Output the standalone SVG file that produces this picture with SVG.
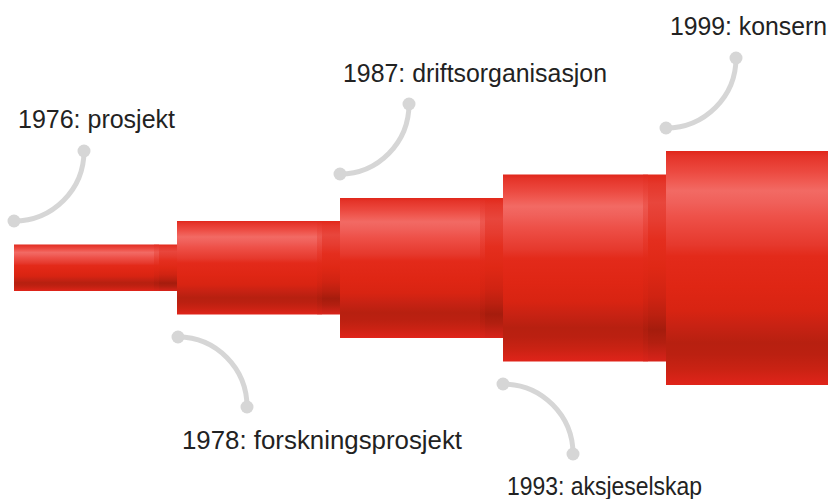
<svg xmlns="http://www.w3.org/2000/svg" width="828" height="499" viewBox="0 0 828 499">
  <style>
    .lbl { font-family: "Liberation Sans", Arial, sans-serif; font-size: 25px; fill: #222222; }
    .con { fill: none; stroke: #d6d6d6; stroke-width: 5; stroke-linecap: round; }
    .dot { fill: #d6d6d6; }
    .body { fill: url(#gBody); }
    .end { fill: url(#gEnd); }
    .trans { fill: url(#gBody); opacity: 0.5; }
  </style>
  <defs>
    <linearGradient id="gBody" x1="0" y1="0" x2="0" y2="1">
      <stop offset="0" stop-color="#e0261a"/>
      <stop offset="0.02" stop-color="#e43328"/>
      <stop offset="0.05" stop-color="#e83d33"/>
      <stop offset="0.09" stop-color="#ec4a41"/>
      <stop offset="0.13" stop-color="#f05a52"/>
      <stop offset="0.17" stop-color="#f26a64"/>
      <stop offset="0.22" stop-color="#f0605a"/>
      <stop offset="0.28" stop-color="#ee5149"/>
      <stop offset="0.34" stop-color="#ea453b"/>
      <stop offset="0.40" stop-color="#e6392d"/>
      <stop offset="0.45" stop-color="#e32a1a"/>
      <stop offset="0.58" stop-color="#df2614"/>
      <stop offset="0.68" stop-color="#d82412"/>
      <stop offset="0.75" stop-color="#c72213"/>
      <stop offset="0.82" stop-color="#b72010"/>
      <stop offset="0.87" stop-color="#bb2011"/>
      <stop offset="0.93" stop-color="#c92213"/>
      <stop offset="1" stop-color="#e0241a"/>
    </linearGradient>
    <linearGradient id="gEnd" x1="0" y1="0" x2="0" y2="1">
      <stop offset="0" stop-color="#e2281a"/>
      <stop offset="0.05" stop-color="#e5372b"/>
      <stop offset="0.15" stop-color="#e8463c"/>
      <stop offset="0.25" stop-color="#e63c30"/>
      <stop offset="0.35" stop-color="#e42e1e"/>
      <stop offset="0.5" stop-color="#df2815"/>
      <stop offset="0.65" stop-color="#d02312"/>
      <stop offset="0.75" stop-color="#bb2010"/>
      <stop offset="0.83" stop-color="#a51c0d"/>
      <stop offset="0.9" stop-color="#b31f10"/>
      <stop offset="1" stop-color="#d8231a"/>
    </linearGradient>
  </defs>

  <g id="stage-1976">
    <rect class="body" x="14" y="244.5" width="140" height="46.5"/>
    <rect class="end" x="154" y="244.5" width="23" height="46.5"/>
    <rect class="trans" x="154" y="244.5" width="5" height="46.5"/>
    <text class="lbl" x="18" y="128" textLength="157" lengthAdjust="spacingAndGlyphs">1976: prosjekt</text>
  </g>
  <g id="stage-1978">
    <rect class="body" x="177" y="221" width="140" height="93.5"/>
    <rect class="end" x="317" y="221" width="23" height="93.5"/>
    <rect class="trans" x="317" y="221" width="5" height="93.5"/>
    <text class="lbl" x="182" y="449" textLength="280" lengthAdjust="spacingAndGlyphs">1978: forskningsprosjekt</text>
  </g>
  <g id="stage-1987">
    <rect class="body" x="340" y="198" width="140" height="140"/>
    <rect class="end" x="480" y="198" width="23" height="140"/>
    <rect class="trans" x="480" y="198" width="5" height="140"/>
    <text class="lbl" x="343" y="82" textLength="264" lengthAdjust="spacingAndGlyphs">1987: driftsorganisasjon</text>
  </g>
  <g id="stage-1993">
    <rect class="body" x="503" y="174.5" width="140" height="187"/>
    <rect class="end" x="643" y="174.5" width="23" height="187"/>
    <rect class="trans" x="643" y="174.5" width="5" height="187"/>
    <text class="lbl" x="507" y="495" textLength="195" lengthAdjust="spacingAndGlyphs">1993: aksjeselskap</text>
  </g>
  <g id="stage-1999">
    <rect class="body" x="666" y="151" width="162" height="234"/>
    <text class="lbl" x="670" y="35" textLength="157" lengthAdjust="spacingAndGlyphs">1999: konsern</text>
  </g>

  <g id="connectors">
    <path class="con" d="M14,221 A70,70 0 0 0 84,151"/>
    <circle class="dot" cx="14" cy="221" r="6.5"/>
    <circle class="dot" cx="84" cy="151" r="6.5"/>
    <path class="con" d="M178,337 A69,70 0 0 1 247,407"/>
    <circle class="dot" cx="178" cy="337" r="6.5"/>
    <circle class="dot" cx="247" cy="407" r="6.5"/>
    <path class="con" d="M340,174 A69,70 0 0 0 409,104"/>
    <circle class="dot" cx="340" cy="174" r="6.5"/>
    <circle class="dot" cx="409" cy="104" r="6.5"/>
    <path class="con" d="M503,384 A70,70 0 0 1 573,454"/>
    <circle class="dot" cx="503" cy="384" r="6.5"/>
    <circle class="dot" cx="573" cy="454" r="6.5"/>
    <path class="con" d="M666,128 A70,70 0 0 0 736,58"/>
    <circle class="dot" cx="666" cy="128" r="6.5"/>
    <circle class="dot" cx="736" cy="58" r="6.5"/>
  </g>
</svg>
